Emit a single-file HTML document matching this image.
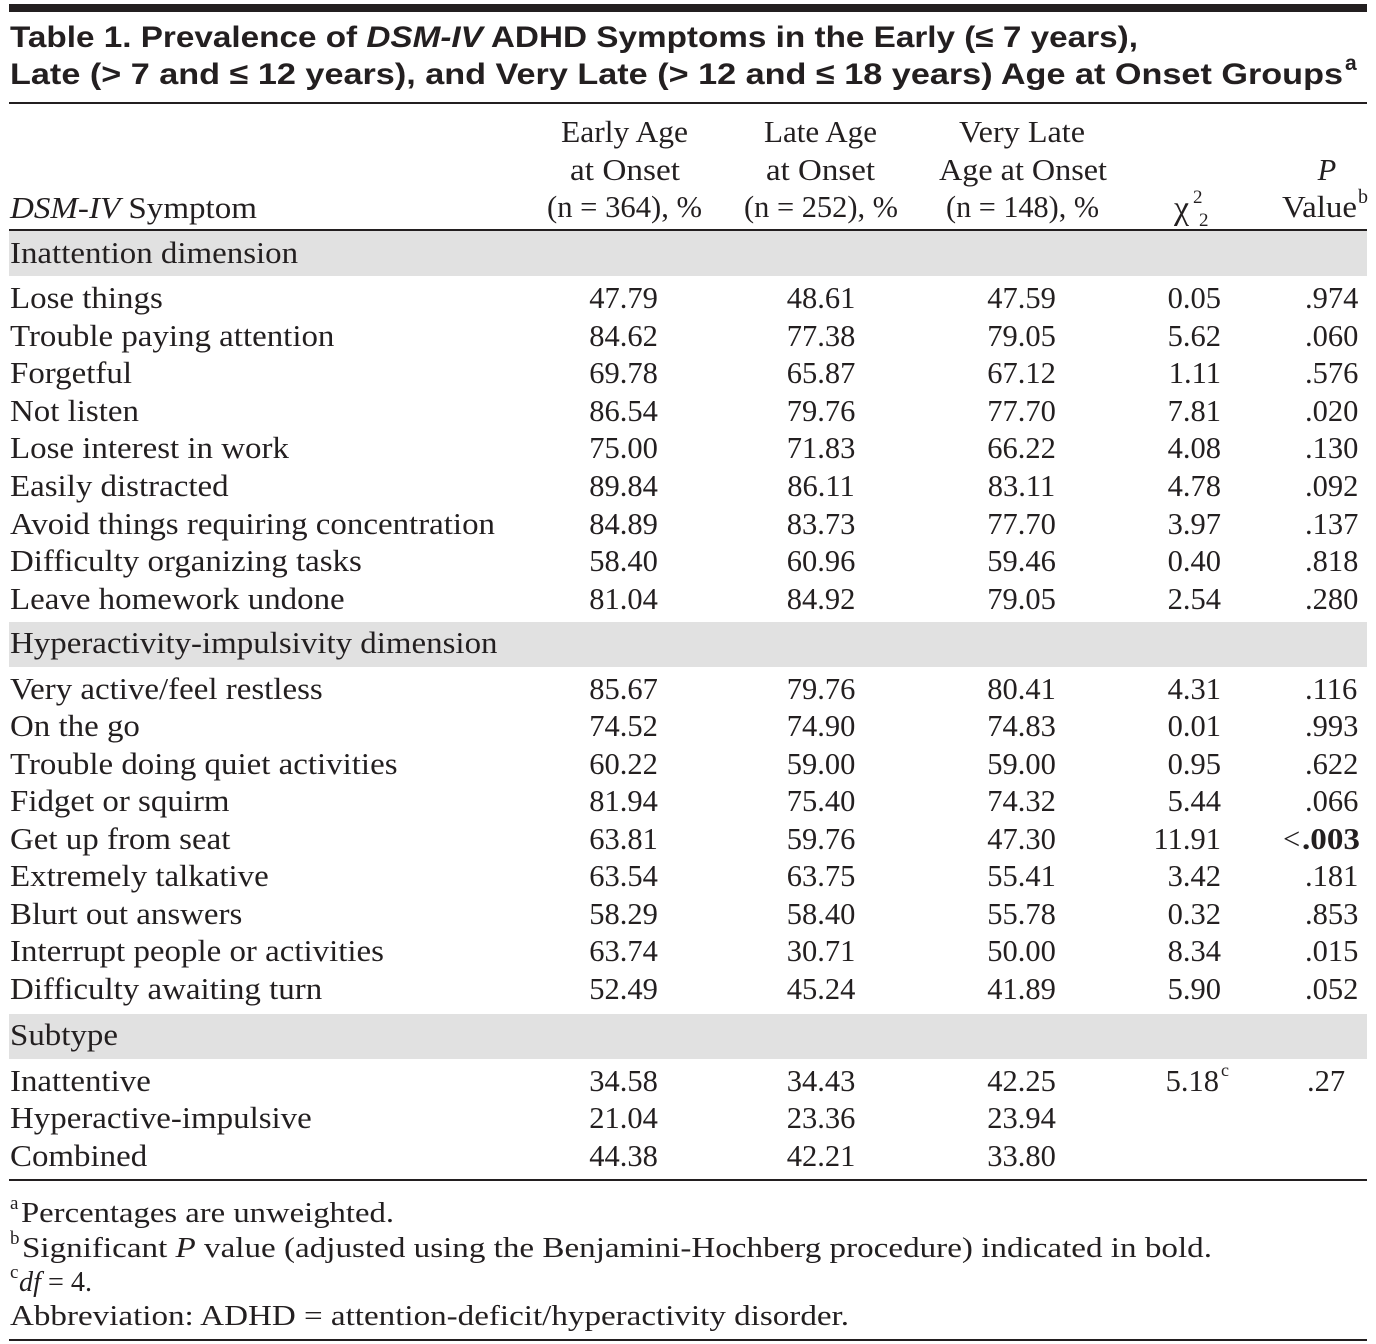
<!DOCTYPE html>
<html>
<head>
<meta charset="utf-8">
<style>
  html,body{margin:0;padding:0;background:#fff;}
  svg{display:block;}
  .s{font-family:"Liberation Serif","DejaVu Serif",serif;font-size:30.5px;fill:#231f20;}
  .f{font-family:"Liberation Serif","DejaVu Serif",serif;font-size:28px;fill:#231f20;}
  .t{font-family:"Liberation Sans","DejaVu Sans",sans-serif;font-size:30px;font-weight:bold;fill:#231f20;}
  .m{text-anchor:middle;}
  .e{text-anchor:end;}
  .sup{font-size:19px;}
</style>
</head>
<body>
<svg width="1376" height="1344" viewBox="0 0 1376 1344" xmlns="http://www.w3.org/2000/svg">
  <rect x="0" y="0" width="1376" height="1344" fill="#ffffff"/>
  <!-- top bar -->
  <rect x="9" y="4" width="1358" height="8" fill="#231f20"/>
  <!-- title -->
  <text class="t" x="10" y="47" textLength="1128" lengthAdjust="spacingAndGlyphs">Table 1. Prevalence of <tspan font-style="italic">DSM-IV</tspan> ADHD Symptoms in the Early (≤ 7 years),</text>
  <text class="t" x="10" y="84" textLength="1333" lengthAdjust="spacingAndGlyphs">Late (&gt; 7 and ≤ 12 years), and Very Late (&gt; 12 and ≤ 18 years) Age at Onset Groups</text>
  <text x="1345" y="70" style="font-family:'Liberation Sans',sans-serif;font-size:21px;font-weight:bold;fill:#231f20;">a</text>
  <rect x="9" y="102" width="1358" height="2" fill="#231f20"/>

  <!-- header -->
  <text class="s" x="10" y="218" textLength="247" lengthAdjust="spacingAndGlyphs"><tspan font-style="italic">DSM-IV</tspan> Symptom</text>

  <text class="s" x="561" y="142" textLength="127" lengthAdjust="spacingAndGlyphs">Early Age</text>
  <text class="s" x="570" y="180" textLength="110" lengthAdjust="spacingAndGlyphs">at Onset</text>
  <text class="s" x="547" y="217" textLength="155" lengthAdjust="spacingAndGlyphs">(n = 364), %</text>

  <text class="s" x="764" y="142" textLength="113" lengthAdjust="spacingAndGlyphs">Late Age</text>
  <text class="s" x="766" y="180" textLength="109" lengthAdjust="spacingAndGlyphs">at Onset</text>
  <text class="s" x="744" y="217" textLength="154" lengthAdjust="spacingAndGlyphs">(n = 252), %</text>

  <text class="s" x="959" y="142" textLength="126" lengthAdjust="spacingAndGlyphs">Very Late</text>
  <text class="s" x="939" y="180" textLength="168" lengthAdjust="spacingAndGlyphs">Age at Onset</text>
  <text class="s" x="946" y="217" textLength="153" lengthAdjust="spacingAndGlyphs">(n = 148), %</text>

  <text class="s" x="1174" y="219" style="font-size:34px">χ</text>
  <text class="s sup" x="1193" y="203">2</text>
  <text class="s sup" x="1199" y="226">2</text>

  <text class="s m" x="1327" y="180" font-style="italic">P</text>
  <text class="s" x="1282" y="217" textLength="75" lengthAdjust="spacingAndGlyphs">Value</text>
  <text class="s sup" x="1358" y="203" style="font-size:20px">b</text>

  <rect x="9" y="229" width="1358" height="2" fill="#231f20"/>

  <!-- gray bands -->
  <rect x="9" y="231" width="1358" height="45" fill="#e1e1e1"/>
  <rect x="9" y="622" width="1358" height="45" fill="#e1e1e1"/>
  <rect x="9" y="1014" width="1358" height="45" fill="#e1e1e1"/>

  <!-- left column labels -->
  <g transform="translate(10 0) scale(1.08 1)">
    <text class="s" x="0" y="263">Inattention dimension</text>
    <text class="s" x="0" y="308">Lose things</text>
    <text class="s" x="0" y="346">Trouble paying attention</text>
    <text class="s" x="0" y="383">Forgetful</text>
    <text class="s" x="0" y="421">Not listen</text>
    <text class="s" x="0" y="458">Lose interest in work</text>
    <text class="s" x="0" y="496">Easily distracted</text>
    <text class="s" x="0" y="534">Avoid things requiring concentration</text>
    <text class="s" x="0" y="571">Difficulty organizing tasks</text>
    <text class="s" x="0" y="609">Leave homework undone</text>

    <text class="s" x="0" y="653">Hyperactivity-impulsivity dimension</text>
    <text class="s" x="0" y="699">Very active/feel restless</text>
    <text class="s" x="0" y="736">On the go</text>
    <text class="s" x="0" y="774">Trouble doing quiet activities</text>
    <text class="s" x="0" y="811">Fidget or squirm</text>
    <text class="s" x="0" y="849">Get up from seat</text>
    <text class="s" x="0" y="886">Extremely talkative</text>
    <text class="s" x="0" y="924">Blurt out answers</text>
    <text class="s" x="0" y="961">Interrupt people or activities</text>
    <text class="s" x="0" y="999">Difficulty awaiting turn</text>

    <text class="s" x="0" y="1045">Subtype</text>
    <text class="s" x="0" y="1091">Inattentive</text>
    <text class="s" x="0" y="1128">Hyperactive-impulsive</text>
    <text class="s" x="0" y="1166">Combined</text>
  </g>

  <!-- Early column -->
  <g>
    <text class="s m" x="623.5" y="308">47.79</text>
    <text class="s m" x="623.5" y="346">84.62</text>
    <text class="s m" x="623.5" y="383">69.78</text>
    <text class="s m" x="623.5" y="421">86.54</text>
    <text class="s m" x="623.5" y="458">75.00</text>
    <text class="s m" x="623.5" y="496">89.84</text>
    <text class="s m" x="623.5" y="534">84.89</text>
    <text class="s m" x="623.5" y="571">58.40</text>
    <text class="s m" x="623.5" y="609">81.04</text>
    <text class="s m" x="623.5" y="699">85.67</text>
    <text class="s m" x="623.5" y="736">74.52</text>
    <text class="s m" x="623.5" y="774">60.22</text>
    <text class="s m" x="623.5" y="811">81.94</text>
    <text class="s m" x="623.5" y="849">63.81</text>
    <text class="s m" x="623.5" y="886">63.54</text>
    <text class="s m" x="623.5" y="924">58.29</text>
    <text class="s m" x="623.5" y="961">63.74</text>
    <text class="s m" x="623.5" y="999">52.49</text>
    <text class="s m" x="623.5" y="1091">34.58</text>
    <text class="s m" x="623.5" y="1128">21.04</text>
    <text class="s m" x="623.5" y="1166">44.38</text>
  </g>

  <!-- Late column -->
  <g>
    <text class="s m" x="821" y="308">48.61</text>
    <text class="s m" x="821" y="346">77.38</text>
    <text class="s m" x="821" y="383">65.87</text>
    <text class="s m" x="821" y="421">79.76</text>
    <text class="s m" x="821" y="458">71.83</text>
    <text class="s m" x="821" y="496">86.11</text>
    <text class="s m" x="821" y="534">83.73</text>
    <text class="s m" x="821" y="571">60.96</text>
    <text class="s m" x="821" y="609">84.92</text>
    <text class="s m" x="821" y="699">79.76</text>
    <text class="s m" x="821" y="736">74.90</text>
    <text class="s m" x="821" y="774">59.00</text>
    <text class="s m" x="821" y="811">75.40</text>
    <text class="s m" x="821" y="849">59.76</text>
    <text class="s m" x="821" y="886">63.75</text>
    <text class="s m" x="821" y="924">58.40</text>
    <text class="s m" x="821" y="961">30.71</text>
    <text class="s m" x="821" y="999">45.24</text>
    <text class="s m" x="821" y="1091">34.43</text>
    <text class="s m" x="821" y="1128">23.36</text>
    <text class="s m" x="821" y="1166">42.21</text>
  </g>

  <!-- Very Late column -->
  <g>
    <text class="s m" x="1021.5" y="308">47.59</text>
    <text class="s m" x="1021.5" y="346">79.05</text>
    <text class="s m" x="1021.5" y="383">67.12</text>
    <text class="s m" x="1021.5" y="421">77.70</text>
    <text class="s m" x="1021.5" y="458">66.22</text>
    <text class="s m" x="1021.5" y="496">83.11</text>
    <text class="s m" x="1021.5" y="534">77.70</text>
    <text class="s m" x="1021.5" y="571">59.46</text>
    <text class="s m" x="1021.5" y="609">79.05</text>
    <text class="s m" x="1021.5" y="699">80.41</text>
    <text class="s m" x="1021.5" y="736">74.83</text>
    <text class="s m" x="1021.5" y="774">59.00</text>
    <text class="s m" x="1021.5" y="811">74.32</text>
    <text class="s m" x="1021.5" y="849">47.30</text>
    <text class="s m" x="1021.5" y="886">55.41</text>
    <text class="s m" x="1021.5" y="924">55.78</text>
    <text class="s m" x="1021.5" y="961">50.00</text>
    <text class="s m" x="1021.5" y="999">41.89</text>
    <text class="s m" x="1021.5" y="1091">42.25</text>
    <text class="s m" x="1021.5" y="1128">23.94</text>
    <text class="s m" x="1021.5" y="1166">33.80</text>
  </g>

  <!-- Chi-square column -->
  <g>
    <text class="s e" x="1221" y="308">0.05</text>
    <text class="s e" x="1221" y="346">5.62</text>
    <text class="s e" x="1221" y="383">1.11</text>
    <text class="s e" x="1221" y="421">7.81</text>
    <text class="s e" x="1221" y="458">4.08</text>
    <text class="s e" x="1221" y="496">4.78</text>
    <text class="s e" x="1221" y="534">3.97</text>
    <text class="s e" x="1221" y="571">0.40</text>
    <text class="s e" x="1221" y="609">2.54</text>
    <text class="s e" x="1221" y="699">4.31</text>
    <text class="s e" x="1221" y="736">0.01</text>
    <text class="s e" x="1221" y="774">0.95</text>
    <text class="s e" x="1221" y="811">5.44</text>
    <text class="s e" x="1221" y="849">11.91</text>
    <text class="s e" x="1221" y="886">3.42</text>
    <text class="s e" x="1221" y="924">0.32</text>
    <text class="s e" x="1221" y="961">8.34</text>
    <text class="s e" x="1221" y="999">5.90</text>
    <text class="s e" x="1219" y="1091">5.18</text>
    <text class="s sup" x="1221" y="1076" style="font-size:18px">c</text>
  </g>

  <!-- P column -->
  <g>
    <text class="s" x="1305" y="308">.974</text>
    <text class="s" x="1305" y="346">.060</text>
    <text class="s" x="1305" y="383">.576</text>
    <text class="s" x="1305" y="421">.020</text>
    <text class="s" x="1305" y="458">.130</text>
    <text class="s" x="1305" y="496">.092</text>
    <text class="s" x="1305" y="534">.137</text>
    <text class="s" x="1305" y="571">.818</text>
    <text class="s" x="1305" y="609">.280</text>
    <text class="s" x="1305" y="699">.116</text>
    <text class="s" x="1305" y="736">.993</text>
    <text class="s" x="1305" y="774">.622</text>
    <text class="s" x="1305" y="811">.066</text>
    <text class="s" x="1283" y="849">&lt;</text>
    <text class="s" x="1302" y="849" font-weight="bold" textLength="58" lengthAdjust="spacingAndGlyphs">.003</text>
    <text class="s" x="1305" y="886">.181</text>
    <text class="s" x="1305" y="924">.853</text>
    <text class="s" x="1305" y="961">.015</text>
    <text class="s" x="1305" y="999">.052</text>
    <text class="s" x="1307" y="1091">.27</text>
  </g>

  <rect x="9" y="1179" width="1358" height="2" fill="#231f20"/>

  <!-- footnotes -->
  <text class="f" x="10" y="1209" style="font-size:19px">a</text>
  <text class="f" x="21" y="1222" textLength="373" lengthAdjust="spacingAndGlyphs">Percentages are unweighted.</text>
  <text class="f" x="10" y="1244" style="font-size:19px">b</text>
  <text class="f" x="22" y="1257" textLength="1190" lengthAdjust="spacingAndGlyphs">Significant <tspan font-style="italic">P</tspan> value (adjusted using the Benjamini-Hochberg procedure) indicated in bold.</text>
  <text class="f" x="10" y="1278" style="font-size:19px">c</text>
  <text class="f" x="19" y="1291" textLength="73" lengthAdjust="spacingAndGlyphs"><tspan font-style="italic">df</tspan> = 4.</text>
  <text class="f" x="10" y="1325" textLength="839" lengthAdjust="spacingAndGlyphs">Abbreviation: ADHD = attention-deficit/hyperactivity disorder.</text>

  <rect x="9" y="1339" width="1358" height="2" fill="#231f20"/>
</svg>
</body>
</html>
